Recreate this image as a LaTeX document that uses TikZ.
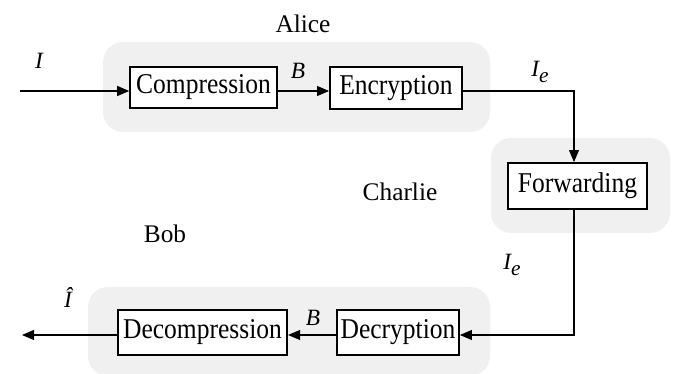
\documentclass[tikz,border=0pt]{standalone}
\usepackage{fontspec}
\setmainfont{Liberation Serif}
\newfontfamily\blockfont[FakeStretch=0.89]{Liberation Serif}
\usetikzlibrary{positioning,arrows.meta}
\definecolor{groupgray}{RGB}{240,240,240}

\begin{document}
\begin{tikzpicture}[
x=0.75pt, y=-0.75pt,
font=\fontsize{19}{23}\selectfont,
block/.style={
  draw,
  font=\blockfont\fontsize{21.5}{25}\selectfont,
  line width=1.4pt,
  minimum height=31pt,
  inner sep=2pt,
  fill=white
  },
group/.style={
  fill=groupgray,
  rounded corners=15pt
  },
tag/.style={
  font=\fontsize{17.5}{21}\selectfont\itshape
  },
>={Triangle[length=9pt,width=7.5pt]},
line width=0.8pt
]
\clip (0,0) rectangle (676,374);
% shaded areas for the three parties
\fill[group] (103,42) rectangle (490,132);
\fill[group] (491,138) rectangle (670,233);
\fill[group] (88,287) rectangle (490,376);

\node[block, minimum width=110pt] (comp) at (203.5,87.5) {Compression};
\node[block, minimum width=99pt] (enc) at (396,88) {Encryption};
\node[block, minimum width=104pt, minimum height=34.5pt] (fwd) at (577.5,186) {Forwarding};
\node[block, minimum width=127pt, minimum height=34pt] (decomp) at (202.5,332.5) {Decompression};
\node[block, minimum width=91.5pt, minimum height=34pt] (decr) at (398,332.5) {Decryption};

\node (alice) at (303,24) {Alice};
\node (charlie) at (400,192) {Charlie};
\node (bob) at (165,234) {Bob};

% free ends and bends of the data path
\coordinate (in) at (20,91);
\coordinate (out) at (22,335);
\coordinate (turn1) at (574,91);
\coordinate (turn2) at (574,335);

\draw[->] (in) -- (comp.west |- in);
\draw[->] (comp.east |- in) -- (enc.west |- in);
\draw[->] (enc.east |- turn1) -- (turn1) -- (fwd.north -| turn1);
\draw[->] (fwd.south -| turn2) -- (turn2) -- (decr.east |- turn2);
\draw[->] (decr.west |- turn2) -- (decomp.east |- turn2);
\draw[->] (decomp.west |- turn2) -- (out);

\node[tag] (lin) at (39,61) {I};
\node[tag] (lb1) at (298,71) {B};
\node[tag] (le1) at (540,72) {I\raisebox{-5pt}{\fontsize{16}{19}\selectfont e}};
\node[tag] (le2) at (512,265) {I\raisebox{-5pt}{\fontsize{16}{19}\selectfont e}};
\node[tag] (lb2) at (313,318) {B};
\node[tag] (lout) at (68,297) {Î};
\end{tikzpicture}
\end{document}
